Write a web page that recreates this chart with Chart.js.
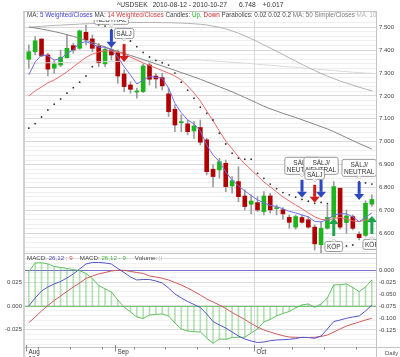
<!DOCTYPE html>
<html><head><meta charset="utf-8">
<script src="https://cdn.jsdelivr.net/npm/chart.js@4.4.0/dist/chart.umd.min.js"></script>
<style>
html,body{margin:0;padding:0;background:#fff;}
#wrap{position:relative;width:400px;height:357px;overflow:hidden;font-family:"Liberation Sans",Arial,sans-serif;}
canvas{position:absolute;left:0;top:0;}
.t{position:absolute;white-space:nowrap;line-height:1;}
</style></head><body>
<div id="wrap">
<canvas id="main" width="400" height="357"></canvas>
<canvas id="macd" width="400" height="357"></canvas>
<div class="t" style="left:117px;top:2px;font-size:6.7px;color:#333;"><span>^USDSEK</span><span style="margin-left:5px">2010-08-12 - 2010-10-27</span><span style="margin-left:12px">6.748</span><span style="margin-left:7px">+0.017</span></div>
<div class="t" style="left:25px;top:12px;width:351px;height:7.5px;overflow:hidden;background:#fff;font-size:6.3px;color:#444;padding-left:2px;box-sizing:border-box;"><span>MA: </span><span style="color:#3c3cd2">5 Weighted/Closes</span> <span>MA: </span><span style="color:#d23c3c">14 Weighted/Closes</span> <span>Candles: </span><span style="color:#22aa22">Up,</span> <span style="color:#cc2222">Down</span> <span>Parabolics: 0.02 0.02 0.2</span> <span style="color:#777">MA: 50 Simple/Closes</span> <span style="color:#b8b8b8">MA: 100 Simple/Closes</span></div>
<div class="t" style="left:27px;top:254.5px;font-size:6.2px;color:#444;"><span>MACD: </span><span style="color:#4a4ab8">26,12</span><span style="color:#d04a4a"> : 9</span><span style="margin-left:7px">MACD: </span><span style="color:#3cb43c">26,12 - 9</span><span style="margin-left:9px">Volume: </span><span style="color:#bbb">||</span></div>
<div class="t" style="left:385px;top:349.5px;font-size:6px;color:#555;">Daily</div>
</div>
<script>
// ---- data ----
const monthLabels = ['Aug','Sep','Oct'];
const monthStart  = [0, 14, 36];
const yearLabel   = '10';
const quarterStart = [36];
const weekStart = [2,7,12,17,22,27,32,37,42,47,52];

const opens  = [7.360,7.393,7.448,7.379,7.321,7.335,7.367,7.420,7.408,7.478,7.449,7.418,7.340,7.401,7.389,7.296,7.248,7.217,7.219,7.335,7.287,7.280,7.209,7.142,7.083,7.078,7.047,7.062,7.008,6.880,6.877,6.906,6.807,6.826,6.763,6.727,6.734,6.695,6.763,6.708,6.703,6.670,6.627,6.669,6.659,6.627,6.550,6.622,6.670,6.797,6.647,6.673,6.596,6.591,6.727];
const highs  = [7.423,7.459,7.452,7.386,7.354,7.401,7.466,7.430,7.488,7.510,7.466,7.430,7.415,7.413,7.401,7.314,7.262,7.234,7.340,7.345,7.299,7.299,7.234,7.161,7.117,7.095,7.088,7.095,7.015,6.899,6.928,6.920,6.848,6.891,6.790,6.768,6.760,6.782,6.775,6.724,6.712,6.680,6.680,6.680,6.673,6.637,6.651,6.724,6.826,6.797,6.702,6.680,6.607,6.742,6.768];
const lows   = [7.321,7.379,7.372,7.287,7.299,7.328,7.365,7.386,7.404,7.423,7.393,7.328,7.328,7.357,7.255,7.219,7.212,7.190,7.214,7.248,7.234,7.226,7.110,7.044,7.044,7.030,7.015,6.986,6.855,6.804,6.841,6.782,6.775,6.738,6.702,6.685,6.695,6.680,6.688,6.680,6.662,6.622,6.618,6.644,6.622,6.527,6.514,6.618,6.651,6.618,6.600,6.615,6.571,6.586,6.717];
const closes = [7.393,7.441,7.375,7.317,7.340,7.369,7.408,7.401,7.484,7.445,7.408,7.345,7.404,7.379,7.287,7.241,7.229,7.222,7.331,7.273,7.274,7.244,7.131,7.073,7.088,7.044,7.069,6.998,6.869,6.848,6.913,6.804,6.830,6.760,6.717,6.741,6.702,6.763,6.702,6.712,6.685,6.648,6.673,6.648,6.627,6.554,6.622,6.669,6.804,6.627,6.676,6.622,6.581,6.731,6.748];

const wma5  = [7.292,7.348,7.379,7.375,7.357,7.362,7.386,7.401,7.431,7.437,7.427,7.413,7.413,7.401,7.370,7.328,7.292,7.252,7.270,7.284,7.282,7.277,7.234,7.168,7.127,7.095,7.078,7.047,6.986,6.942,6.913,6.868,6.833,6.807,6.785,6.765,6.746,6.733,6.722,6.717,6.707,6.696,6.689,6.680,6.672,6.652,6.650,6.659,6.680,6.685,6.685,6.672,6.651,6.670,6.689];
const wma14 = [7.200,7.222,7.239,7.257,7.270,7.287,7.305,7.327,7.348,7.368,7.383,7.392,7.397,7.397,7.392,7.383,7.370,7.357,7.344,7.333,7.322,7.311,7.300,7.287,7.270,7.244,7.213,7.178,7.134,7.091,7.047,7.003,6.969,6.934,6.903,6.877,6.851,6.824,6.803,6.781,6.759,6.741,6.724,6.707,6.689,6.672,6.661,6.658,6.665,6.669,6.663,6.654,6.651,6.658,6.666];
const sma50 = [7.501,7.497,7.492,7.487,7.481,7.475,7.468,7.460,7.452,7.443,7.434,7.424,7.414,7.404,7.395,7.386,7.377,7.368,7.359,7.350,7.340,7.331,7.321,7.312,7.302,7.293,7.283,7.273,7.262,7.251,7.240,7.229,7.218,7.206,7.193,7.181,7.168,7.155,7.144,7.134,7.124,7.115,7.106,7.096,7.086,7.076,7.066,7.056,7.044,7.031,7.018,7.005,6.992,6.980,6.968];
const sma100 = [7.500,7.502,7.504,7.506,7.508,7.509,7.511,7.512,7.514,7.515,7.516,7.517,7.518,7.519,7.520,7.520,7.521,7.521,7.521,7.521,7.521,7.520,7.520,7.519,7.518,7.517,7.515,7.513,7.510,7.505,7.500,7.493,7.484,7.474,7.462,7.450,7.437,7.423,7.409,7.395,7.381,7.366,7.352,7.338,7.324,7.311,7.298,7.287,7.276,7.265,7.256,7.247,7.238,7.230,7.222];
const sma200 = [7.343,7.344,7.344,7.345,7.345,7.346,7.346,7.347,7.347,7.348,7.349,7.349,7.350,7.350,7.351,7.352,7.352,7.353,7.353,7.354,7.355,7.355,7.356,7.356,7.356,7.357,7.357,7.357,7.355,7.353,7.351,7.349,7.347,7.345,7.343,7.341,7.338,7.336,7.334,7.332,7.329,7.327,7.325,7.322,7.320,7.318,7.315,7.313,7.311,7.308,7.306,7.304,7.302,7.300,7.299];
const sar = [7.059,7.079,7.108,7.139,7.164,7.187,7.212,7.236,7.260,7.287,7.328,7.510,7.505,7.490,7.480,7.460,7.440,7.415,7.390,7.370,7.355,7.345,7.335,7.300,7.260,7.225,7.190,7.151,7.124,7.095,7.037,6.990,6.950,6.928,6.924,6.924,6.862,6.840,6.815,6.795,6.778,6.768,6.758,6.748,6.740,6.731,6.735,6.730,6.535,6.540,6.545,6.549,6.826,6.820,6.815];

const macdLine = [-0.0750,-0.0583,-0.0438,-0.0354,-0.0292,-0.0240,-0.0167,-0.0083,0.0021,0.0125,0.0156,0.0156,0.0146,0.0125,0.0031,-0.0052,-0.0146,-0.0208,-0.0198,-0.0198,-0.0229,-0.0271,-0.0375,-0.0500,-0.0583,-0.0656,-0.0719,-0.0781,-0.0917,-0.1073,-0.1146,-0.1208,-0.1292,-0.1375,-0.1438,-0.1479,-0.1510,-0.1500,-0.1473,-0.1458,-0.1452,-0.1444,-0.1427,-0.1402,-0.1406,-0.1423,-0.1375,-0.1229,-0.1073,-0.1042,-0.1006,-0.0979,-0.0958,-0.0854,-0.0729];
const macdSignal = [-0.1098,-0.0979,-0.0854,-0.0740,-0.0635,-0.0542,-0.0448,-0.0354,-0.0271,-0.0177,-0.0125,-0.0083,-0.0052,-0.0021,-0.0006,-0.0006,-0.0031,-0.0052,-0.0073,-0.0125,-0.0146,-0.0173,-0.0208,-0.0260,-0.0313,-0.0375,-0.0448,-0.0521,-0.0604,-0.0667,-0.0729,-0.0802,-0.0885,-0.0958,-0.1031,-0.1115,-0.1188,-0.1250,-0.1292,-0.1333,-0.1369,-0.1396,-0.1402,-0.1406,-0.1406,-0.1402,-0.1385,-0.1354,-0.1292,-0.1229,-0.1167,-0.1125,-0.1083,-0.1042,-0.1006];
const macdHist = [0.0360,0.0452,0.0455,0.0441,0.0415,0.0404,0.0394,0.0383,0.0371,0.0341,0.0289,0.0215,0.0179,0.0147,0.0063,-0.0011,-0.0063,-0.0116,-0.0131,-0.0095,-0.0089,-0.0084,-0.0105,-0.0179,-0.0242,-0.0263,-0.0270,-0.0273,-0.0336,-0.0392,-0.0347,-0.0350,-0.0331,-0.0329,-0.0329,-0.0284,-0.0242,-0.0168,-0.0142,-0.0105,-0.0079,-0.0058,-0.0021,0.0011,0.0021,-0.0014,0.0021,0.0084,0.0221,0.0224,0.0231,0.0194,0.0150,0.0200,0.0273];

const sigIdx   = [13, 15, 43, 46, 45, 52, 48, 54];
const sigText  = ['NEUTRAL','SÄLJ','SÄLJ/|NEUTRAL','SÄLJ/|NEUTRAL','SÄLJ','SÄLJ/|NEUTRAL','KÖP','KÖP'];
const sigKind  = ['neutral','sell','neutral','neutral','sell','neutral','buy','buy'];
const sigPrice = [7.410, 7.348, 6.755, 6.755, 6.733, 6.746, 6.667, 6.676];

// ---- helpers ----
const FONT = '"Liberation Sans", Arial, sans-serif';
const xMin = -0.6, xMax = 54.65;
const pts = a => a.map((v,i)=>({x:i, y:v}));
const UP = '#1db51d', DOWN = '#b00000';
const kindColor = {neutral:'#2c48c0', sell:'#d01c1c', buy:'#1aa64a'};

function roundRect(ctx,x,y,w,h,r){
  ctx.beginPath();
  ctx.moveTo(x+r,y); ctx.lineTo(x+w-r,y); ctx.quadraticCurveTo(x+w,y,x+w,y+r);
  ctx.lineTo(x+w,y+h-r); ctx.quadraticCurveTo(x+w,y+h,x+w-r,y+h);
  ctx.lineTo(x+r,y+h); ctx.quadraticCurveTo(x,y+h,x,y+h-r);
  ctx.lineTo(x,y+r); ctx.quadraticCurveTo(x,y,x+r,y); ctx.closePath();
}
function drawBox(ctx,cx,lines,anchorY,down){
  ctx.font = '6.5px '+FONT;
  const lh=7, padX=2, padY=1.5;
  const w = Math.max(...lines.map(t=>ctx.measureText(t).width)) + padX*2;
  const h = lines.length*lh + padY*2;
  const x0 = cx - w/2, y0 = down ? anchorY - h - 2.5 : anchorY + 2.5;
  roundRect(ctx,x0,y0,w,h,2);
  ctx.fillStyle='#fff'; ctx.fill(); ctx.strokeStyle='#9a9a9a'; ctx.lineWidth=1; ctx.stroke();
  ctx.beginPath();
  if(down){ ctx.moveTo(cx-2.5,y0+h); ctx.lineTo(cx,y0+h+2.5); ctx.lineTo(cx+2.5,y0+h); }
  else { ctx.moveTo(cx-2.5,y0); ctx.lineTo(cx,y0-2.5); ctx.lineTo(cx+2.5,y0); }
  ctx.stroke(); ctx.fillStyle='#fff'; ctx.fill();
  ctx.fillStyle='#333'; ctx.textAlign='center'; ctx.textBaseline='middle';
  lines.forEach((t,i)=>ctx.fillText(t,cx,y0+padY+lh*i+lh/2+0.5));
}
function drawArrow(ctx,cx,tipY,down,color){
  const L=18, hh=6, hw=5, sw=3, dir = down?1:-1;
  const tailY = tipY - dir*L, neckY = tipY - dir*hh;
  ctx.fillStyle=color;
  ctx.fillRect(cx-sw/2, Math.min(tailY,neckY), sw, Math.abs(neckY-tailY));
  ctx.beginPath(); ctx.moveTo(cx-hw,neckY); ctx.lineTo(cx+hw,neckY); ctx.lineTo(cx,tipY); ctx.closePath(); ctx.fill();
}

const mainDeco = {
  id:'mainDeco',
  beforeDatasetsDraw(chart){
    const {ctx, chartArea:a, scales:{x}} = chart;
    ctx.save(); ctx.strokeStyle='#d6d6d6'; ctx.lineWidth=1;
    quarterStart.forEach(i=>{ const px=Math.round(x.getPixelForValue(i-0.5))+0.5;
      ctx.beginPath(); ctx.moveTo(px,a.top); ctx.lineTo(px,a.bottom); ctx.stroke(); });
    ctx.restore();
  },
  afterDatasetsDraw(chart){
    const {ctx, chartArea:a, scales:{x,y}} = chart;
    ctx.save(); ctx.beginPath(); ctx.rect(a.left,a.top,a.right-a.left,a.bottom-a.top); ctx.clip();
    const L=18, gap=3;
    sigIdx.forEach((idx,k)=>{
      const px=x.getPixelForValue(idx), tip=y.getPixelForValue(sigPrice[k]);
      const down = sigKind[k]!=='buy';
      const tail = down ? tip-L : tip+L;
      drawBox(ctx,px,sigText[k].split('|'), down? tail-gap : tail+gap, down);
    });
    sigIdx.forEach((idx,k)=>{
      const px=x.getPixelForValue(idx), tip=y.getPixelForValue(sigPrice[k]);
      drawArrow(ctx,px,tip,sigKind[k]!=='buy',kindColor[sigKind[k]]);
    });
    ctx.restore();
  }
};

new Chart(document.getElementById('main'), {
  type:'bar',
  data:{datasets:[
    {type:'line', data:pts(sar), showLine:false, pointRadius:0.9, pointBackgroundColor:'#333', pointBorderWidth:0, order:0},
    {type:'line', data:pts(wma5), borderColor:'#7070ea', borderWidth:1, pointRadius:0, order:1},
    {type:'line', data:pts(wma14), borderColor:'#ea6a6a', borderWidth:1, pointRadius:0, order:2},
    {type:'line', data:pts(sma50), borderColor:'#858585', borderWidth:1, pointRadius:0, order:3},
    {type:'line', data:pts(sma100), borderColor:'#b2b2b2', borderWidth:1, pointRadius:0, order:3},
    {type:'line', data:pts(sma200), borderColor:'#dadada', borderWidth:1, pointRadius:0, order:3},
    {type:'bar', data:closes.map((c,i)=>({x:i,y:[opens[i],c]})), backgroundColor:closes.map((c,i)=>c>=opens[i]?UP:DOWN), barThickness:4, minBarLength:1, grouped:false, order:8},
    {type:'bar', data:highs.map((h,i)=>({x:i,y:[lows[i],h]})), backgroundColor:'#9c9c9c', barThickness:1, grouped:false, order:9}
  ]},
  options:{
    responsive:false, animation:false, devicePixelRatio:1,
    layout:{padding:{left:25,right:0,top:11,bottom:104}},
    plugins:{legend:{display:false}, tooltip:{enabled:false}},
    scales:{
      x:{type:'linear', min:xMin, max:xMax, offset:false, display:false},
      y:{position:'right', min:6.514, max:7.571, border:{display:false},
         afterFit(s){ s.width=24; },
         ticks:{stepSize:0.02, includeBounds:false, autoSkip:false, padding:3, color:'#444', font:{family:FONT,size:6},
           callback(v){ const k=Math.round(v*100); return (Math.abs(v*100-k)<1e-6 && k%10===0) ? v.toFixed(3) : ''; }},
         grid:{drawTicks:false, color(c){ const k=Math.round(c.tick.value*100); return k%10===0 ? '#d9d9d9' : '#efefef'; }}}
    }
  },
  plugins:[mainDeco]
});

const macdDeco = {
  id:'macdDeco',
  beforeDatasetsDraw(chart){
    const {ctx, chartArea:a, scales:{x,yR,yL}} = chart;
    ctx.save(); ctx.lineWidth=1;
    ctx.strokeStyle='#d6d6d6';
    quarterStart.forEach(i=>{ const px=Math.round(x.getPixelForValue(i-0.5))+0.5;
      ctx.beginPath(); ctx.moveTo(px,a.top); ctx.lineTo(px,a.bottom); ctx.stroke(); });
    let py=Math.round(yR.getPixelForValue(0))+0.5;
    ctx.strokeStyle='#7474c8'; ctx.beginPath(); ctx.moveTo(a.left,py); ctx.lineTo(a.right,py); ctx.stroke();
    py=Math.round(yL.getPixelForValue(0))+0.5;
    ctx.strokeStyle='#78c478'; ctx.beginPath(); ctx.moveTo(a.left,py); ctx.lineTo(a.right,py); ctx.stroke();
    ctx.restore();
  },
  afterDraw(chart){
    const {ctx, chartArea:a, scales:{x}} = chart;
    ctx.save();
    ctx.fillStyle='#d0d0d0'; ctx.fillRect(23,11,2,346);
    ctx.strokeStyle='#c4c4c4'; ctx.lineWidth=1;
    ctx.beginPath();
    ctx.moveTo(24,11.5); ctx.lineTo(376,11.5);
    ctx.moveTo(24,253.5); ctx.lineTo(376,253.5);
    ctx.moveTo(24,a.bottom+0.5); ctx.lineTo(400,a.bottom+0.5);
    ctx.moveTo(376.5,11); ctx.lineTo(376.5,357);
    ctx.stroke();
    ctx.strokeStyle='#888';
    weekStart.forEach(i=>{ const px=Math.round(x.getPixelForValue(i-0.5))+0.5;
      ctx.beginPath(); ctx.moveTo(px,a.bottom); ctx.lineTo(px,a.bottom+2.5); ctx.stroke(); });
    ctx.font='6.3px '+FONT; ctx.fillStyle='#333'; ctx.textAlign='left'; ctx.textBaseline='alphabetic';
    monthStart.forEach((i,k)=>{ const px=Math.round(x.getPixelForValue(i-0.5))+0.5;
      ctx.beginPath(); ctx.moveTo(px,a.bottom-2); ctx.lineTo(px,a.bottom+4.5); ctx.stroke();
      ctx.fillText(monthLabels[k], px+2, a.bottom+6.5); });
    ctx.fillText(yearLabel, Math.round(x.getPixelForValue(monthStart[0]-0.5))+2.5, a.bottom+13.5);
    ctx.restore();
  }
};

new Chart(document.getElementById('macd'), {
  type:'bar',
  data:{datasets:[
    {type:'line', data:pts(macdLine), yAxisID:'yR', borderColor:'#5454c8', borderWidth:1, pointRadius:0, order:0},
    {type:'line', data:pts(macdSignal), yAxisID:'yR', borderColor:'#d05858', borderWidth:1, pointRadius:0, order:0},
    {type:'line', data:pts(macdHist), yAxisID:'yL', borderColor:'#62c062', borderWidth:1, pointRadius:0, order:1},
    {type:'bar', data:macdHist.map((h,i)=>({x:i,y:[0,h]})), yAxisID:'yL', backgroundColor:'rgba(90,190,90,0.45)', barThickness:1, grouped:false, order:5}
  ]},
  options:{
    responsive:false, animation:false, devicePixelRatio:1,
    layout:{padding:{left:0,right:0,top:254,bottom:10}},
    plugins:{legend:{display:false}, tooltip:{enabled:false}},
    scales:{
      x:{type:'linear', min:xMin, max:xMax, offset:false, display:false},
      yR:{position:'right', min:-0.1604, max:0.0333, border:{display:false}, grid:{display:false, drawTicks:false},
          afterFit(s){ s.width=24; },
          ticks:{stepSize:0.025, includeBounds:false, autoSkip:false, padding:3, color:'#444', font:{family:FONT,size:6},
            callback(v){ const k=Math.round(v*1000); if(k>0||k<-125) return ''; return k===0?'0.000':(k/1000).toFixed(3); }}},
      yL:{position:'left', min:-0.0431, max:0.0546, border:{display:false},
          afterFit(s){ s.width=25; },
          ticks:{stepSize:0.005, includeBounds:false, autoSkip:false, padding:3, color:'#444', font:{family:FONT,size:6},
            callback(v){ const k=Math.round(v*1000); if(k%25!==0||k>25||k<-25) return ''; return k===0?'0.000':(k/1000).toFixed(3); }},
          grid:{drawTicks:false, color(c){ const k=Math.round(c.tick.value*1000); return k%25===0 ? '#dcdcdc' : '#f1f1f1'; }}}
    }
  },
  plugins:[macdDeco]
});
</script>
</body></html>
